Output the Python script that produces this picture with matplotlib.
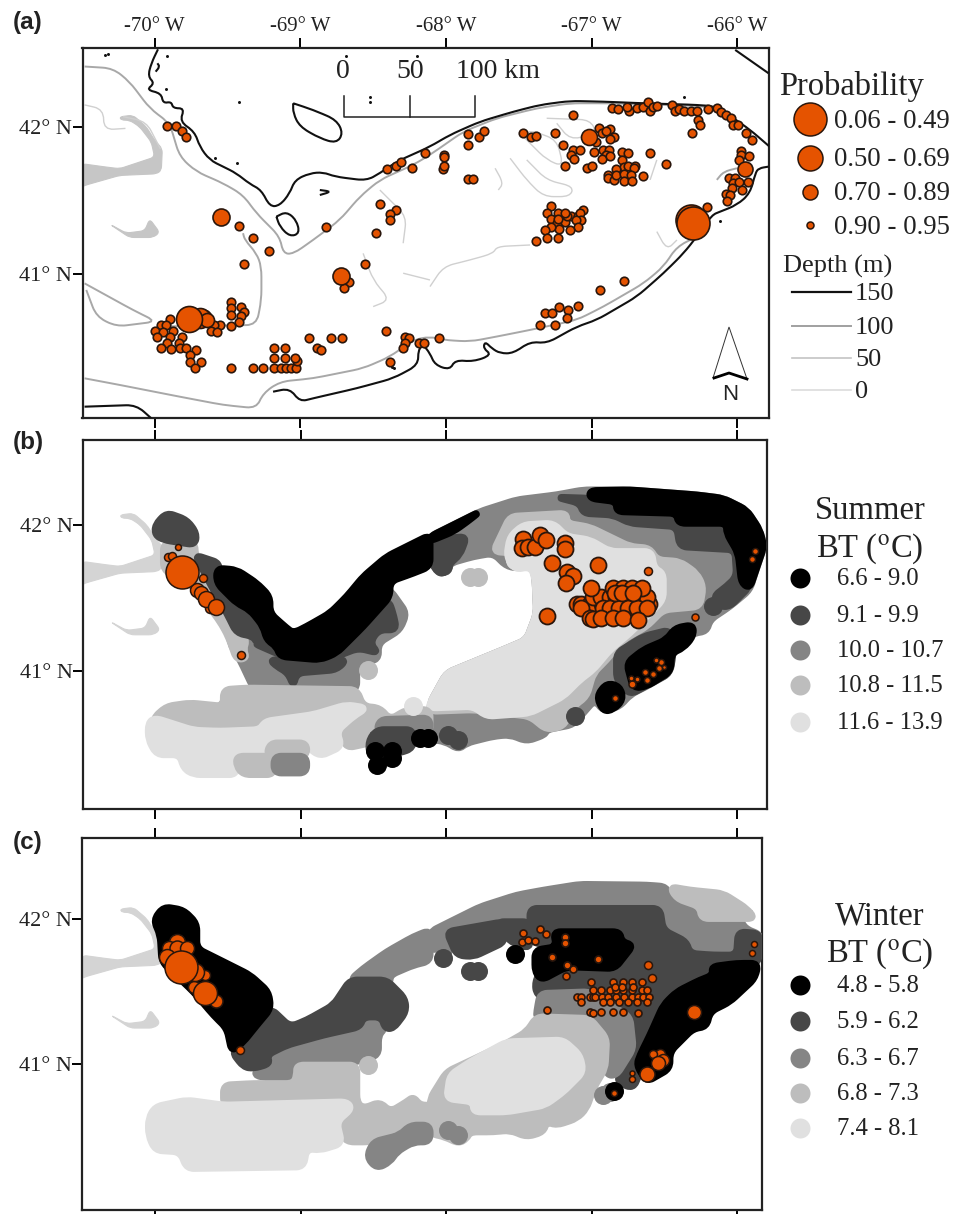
# Georges Bank maps: occurrence probability, summer and winter bottom temperature
import numpy as np
import matplotlib.pyplot as plt
from matplotlib.patches import Polygon, PathPatch
from matplotlib.path import Path

plt.rcParams['font.family'] = ['Liberation Serif', 'DejaVu Serif']
plt.rcParams['mathtext.fontset'] = 'stix'

W, H = 955, 1214
ORANGE = '#e55300'
EDGE = '#2a160c'
SHADES = ['#000000', '#474747', '#858585', '#bdbdbd', '#e0e0e0']

lon_ticks = [-70, -69, -68, -67, -66]
lon_labels = ['-70° W', '-69° W', '-68° W', '-67° W', '-66° W']
lat_ticks = [41, 42]
lat_labels = ['41° N', '42° N']

prob_labels = ['0.06 - 0.49', '0.50 - 0.69', '0.70 - 0.89', '0.90 - 0.95']
depth_labels = ['150', '100', '50', '0']
summer_labels = ['6.6 - 9.0', '9.1 - 9.9', '10.0 - 10.7', '10.8 - 11.5', '11.6 - 13.9']
winter_labels = ['4.8 - 5.8', '5.9 - 6.2', '6.3 - 6.7', '6.8 - 7.3', '7.4 - 8.1']

# panel a, occurrences (lon, lat)
a_small = [
    (-69.915,42.009),(-69.855,42.009),(-69.814,41.971),(-69.784,41.930),(-69.424,41.327),(-69.326,41.245),
    (-69.214,41.159),(-69.386,41.068),(-68.822,41.318),(-68.456,41.476),(-68.343,41.433),(-68.382,41.408),
    (-68.382,41.365),(-68.481,41.277),(-68.554,41.068),(-68.669,40.948),(-68.703,40.903),(-68.403,41.712),
    (-68.343,41.733),(-68.311,41.762),(-68.233,41.724),(-68.142,41.823),(-69.475,40.807),(-69.475,40.767),
    (-69.475,40.724),(-69.475,40.646),(-69.404,40.778),(-69.386,40.744),(-69.406,40.712),(-69.424,40.674),
    (-69.553,40.653),(-69.594,40.653),(-69.615,40.615),(-69.573,40.603),(-69.896,40.692),(-69.954,40.653),
    (-69.924,40.653),(-69.995,40.612),(-69.945,40.603),(-69.873,40.615),(-69.986,40.574),(-69.894,40.574),
    (-69.814,40.574),(-69.915,40.533),(-69.835,40.533),(-69.954,40.494),(-69.885,40.488),(-69.825,40.494),
    (-69.784,40.494),(-69.713,40.485),(-69.754,40.449),(-69.754,40.404),(-69.683,40.404),(-69.725,40.358),
    (-69.475,40.358),(-69.326,40.358),(-69.255,40.358),(-69.182,40.358),(-69.131,40.358),(-69.095,40.358),
    (-69.065,40.358),(-69.030,40.358),(-69.024,40.406),(-69.037,40.426),(-69.182,40.426),(-69.106,40.426),
    (-69.182,40.494),(-69.104,40.494),(-68.943,40.567),(-68.790,40.567),(-68.712,40.567),(-68.886,40.494),
    (-68.861,40.483),(-68.412,40.612),(-68.281,40.574),(-68.252,40.563),(-68.281,40.533),(-68.293,40.494),
    (-68.183,40.533),(-68.151,40.533),(-68.384,40.404),
    (-67.851,41.950),(-67.851,41.880),(-67.771,41.932),(-67.739,41.971),(-68.014,41.810),(-68.014,41.794),
    (-68.023,41.714),(-68.014,41.735),(-67.851,41.644),(-67.812,41.644),(-67.471,41.959),(-67.420,41.932),
    (-67.379,41.939),(-67.251,41.959),(-67.129,42.080),(-67.200,41.880),(-67.182,41.733),(-67.031,41.724),
    (-67.001,41.733),(-66.951,41.991),(-66.871,41.987),(-66.930,41.957),(-66.900,41.971),(-66.850,41.930),
    (-66.871,41.921),(-66.971,41.900),(-67.129,41.841),(-67.079,41.841),(-67.141,41.810),(-67.120,41.782),
    (-66.981,41.832),(-66.921,41.841),(-66.880,41.841),(-66.900,41.810),(-66.930,41.782),(-66.871,41.801),
    (-66.793,41.832),(-66.751,41.823),(-66.793,41.773),(-66.781,41.730),(-66.751,41.733),(-66.701,41.733),
    (-66.710,41.719),(-66.603,41.823),(-66.490,41.751),(-66.832,41.712),(-66.891,41.674),(-66.891,41.653),
    (-66.850,41.640),(-66.832,41.674),(-66.781,41.683),(-66.781,41.635),(-66.731,41.674),(-66.722,41.635),
    (-66.651,41.665),(-67.281,41.465),(-67.304,41.415),(-67.230,41.415),(-67.141,41.397),(-67.091,41.397),
    (-67.061,41.436),(-67.080,41.415),(-67.281,41.376),(-67.239,41.347),(-67.182,41.356),(-67.070,41.365),
    (-67.111,41.365),(-67.091,41.318),(-67.152,41.299),(-67.221,41.306),(-67.281,41.318),(-67.322,41.299),
    (-67.304,41.247),(-67.230,41.247),(-67.381,41.227),(-67.172,41.397),(-67.230,41.376),(-67.182,41.415),
    (-66.779,40.953),(-66.942,40.891),(-67.091,40.782),(-67.221,40.778),(-67.162,40.753),(-67.322,40.733),
    (-67.271,40.733),(-67.171,40.703),(-67.352,40.653),(-67.251,40.653),(-68.050,40.565),
    (-66.861,42.129),(-66.822,42.120),(-66.742,42.109),(-66.758,42.139),(-66.690,42.129),(-66.651,42.139),
    (-66.612,42.170),(-66.598,42.109),(-66.582,42.139),(-66.552,42.145),(-66.451,42.150),(-66.431,42.111),
    (-66.399,42.120),(-66.369,42.111),(-66.319,42.111),(-66.277,42.111),(-66.270,42.048),(-66.259,42.012),
    (-66.309,41.959),(-66.199,42.120),(-66.140,42.132),(-66.110,42.100),(-66.078,42.082),(-66.041,42.059),
    (-66.030,42.012),(-65.998,42.012),(-65.938,41.959),(-65.899,41.912),(-65.977,41.839),(-65.977,41.810),
    (-65.989,41.776),(-65.920,41.801),(-66.060,41.653),(-66.018,41.653),(-66.030,41.617),(-65.989,41.624),
    (-65.929,41.624),(-66.039,41.583),(-65.968,41.574),(-66.080,41.544),(-66.048,41.538),(-66.069,41.494),
    (-66.208,41.454),
]
# (lon, lat, diameter class in pixels)
a_large = [
    (-69.667,40.699,17),(-69.690,40.699,20),(-69.640,40.690,14),(-69.764,40.692,26),
    (-69.544,41.386,17),(-68.724,40.989,17),(-67.019,41.930,16),(-65.950,41.712,15),
    (-66.315,41.365,31),(-66.305,41.345,33),
]
# stray black soundings outside the bank
specks = [(-69.915,42.483),(-69.924,42.256),(-69.420,42.172),(-69.434,41.757),(-69.587,41.787),(-68.197,42.483),
          (-68.683,42.483),(-68.523,42.206),(-68.523,42.172),(-66.363,42.206),(-66.118,41.361),(-68.374,40.370),
          (-68.360,40.360),(-70.343,42.490),(-70.320,42.495)]

# panels b and c share the occurrence positions, only the size differs
nw_lon = [-67.469,-67.480,-67.434,-67.389,-67.354,-67.313,-67.183,-67.183,-67.274,-66.954,-67.171,-67.130,-67.176,-67.304]
nw_lat = [41.903,41.841,41.852,41.848,41.932,41.898,41.875,41.836,41.738,41.727,41.681,41.652,41.606,41.374]
dense_lon = [-67.102,-67.075,-67.011,-66.988,-66.976,-66.931,-66.885,-66.834,-66.775,-66.725,-66.679,-66.644,-66.603,
             -66.988,-66.935,-66.873,-66.834,-66.782,-66.725,-66.656,-66.622,
             -67.004,-66.855,-66.782,-66.725,-66.656,
             -67.075,-66.919,-66.873,-66.809,-66.747,-66.686,-66.622,
             -66.839,-66.793,-66.713,
             -67.011,-66.988,-66.935,-66.855,-66.782,-66.683]
dense_lat = [41.459,41.459,41.459,41.459,41.459,41.459,41.459,41.459,41.459,41.459,41.459,41.459,41.459,
             41.509,41.509,41.509,41.509,41.509,41.509,41.509,41.509,
             41.567,41.567,41.567,41.567,41.567,
             41.429,41.429,41.429,41.429,41.429,41.429,41.429,
             41.532,41.532,41.532,
             41.360,41.355,41.360,41.360,41.360,41.350]
b_tiny = [(-66.610,41.688,8),(-66.289,41.371,7),(-66.839,40.813,6),(-66.720,40.911,7),(-66.686,40.945,5),
          (-66.727,40.950,5),(-66.633,40.993,6),(-66.619,40.940,6),(-66.580,40.979,6),(-66.539,41.020,6),
          (-66.523,41.061,6),(-66.555,41.073,5),(-66.502,41.027,4),(-65.877,41.825,6),(-65.900,41.766,6),
          (-69.411,41.109,8)]
b_nw = [(-69.844,41.848,6),(-69.908,41.784,8),(-69.880,41.790,8),(-69.668,41.636,8),(-69.714,41.556,14),
        (-69.686,41.533,14),(-69.622,41.431,10),(-69.649,41.492,16),(-69.581,41.437,16),(-69.817,41.681,33)]
c_tiny = [(-66.844,40.803,6),(-66.724,40.900,6),(-66.724,40.935,5),(-65.884,41.825,6),(-65.900,41.763,6),
          (-66.610,41.682,8),(-66.587,41.595,8),(-69.416,41.095,8)]
c_big = [(-69.851,41.843,16),(-69.908,41.797,14),(-69.851,41.797,15),(-69.782,41.797,14),(-69.920,41.739,16),
         (-69.736,41.533,12),(-69.656,41.613,10),(-69.725,41.636,18),(-69.581,41.434,13),(-69.656,41.487,24),
         (-69.821,41.671,33),(-66.530,41.072,10),(-66.576,41.072,8),(-66.507,41.026,12),(-66.541,41.010,14),
         (-66.622,40.928,15),(-66.294,41.360,14)]

# depth contours (lon, lat)
c150 = [
    [(-69.977,42.528),(-70.023,42.433),(-70.046,42.343),(-70.0,42.297),(-70.057,42.252),(-69.954,42.229),
     (-69.943,42.161),(-69.885,42.172),(-69.874,42.127),(-69.794,42.127),(-69.828,42.036),(-69.725,41.968),
     (-69.691,41.866),(-69.622,41.775),(-69.530,41.730),(-69.439,41.685),(-69.347,41.612),(-69.267,41.571),
     (-69.210,41.458),(-69.141,41.465),(-69.072,41.549),(-69.038,41.639),(-68.935,41.685),(-68.843,41.692),
     (-68.763,41.662),(-68.546,41.635),(-68.454,41.685),(-68.339,41.764),(-68.11,41.866),(-67.973,41.946),
     (-67.767,42.036),(-67.537,42.104),(-67.354,42.150),(-67.148,42.177),(-66.919,42.172),(-66.644,42.161),
     (-66.278,42.150),(-66.141,42.139),(-66.026,42.059),(-65.912,41.980),(-65.779,41.866)],
    [(-65.786,41.730),(-65.854,41.719),(-65.877,41.685),(-65.912,41.549),(-66.003,41.469),(-66.118,41.424),
     (-66.175,41.401),(-66.278,41.254),(-66.370,41.140),(-66.507,41.005),(-66.690,40.846),(-66.965,40.687),
     (-67.102,40.642),(-67.309,40.528),(-67.423,40.540),(-67.537,40.460),(-67.629,40.460),(-67.686,40.494),
     (-67.732,40.540),(-67.744,40.494),(-67.686,40.449),(-67.812,40.403),(-67.938,40.415),(-67.973,40.347),
     (-68.076,40.381),(-68.11,40.460),(-68.156,40.517),(-68.191,40.483),(-68.191,40.381),(-68.362,40.290),
     (-68.614,40.222),(-68.912,40.154),(-69.004,40.131),(-69.072,40.222),(-69.187,40.199)],
    [(-70.481,40.097),(-70.126,40.109),(-70.023,40.018)],
    [(-66.015,42.524),(-65.786,42.365)],
    [(-69.049,42.161),(-68.912,42.116),(-68.752,42.048),(-68.706,41.957),(-68.752,41.889),(-68.866,41.923),
     (-69.004,42.002),(-69.049,42.093),(-69.049,42.161)],
    [(-69.164,41.390),(-69.095,41.424),(-69.027,41.367),(-69.004,41.276),(-69.072,41.254),(-69.141,41.322),(-69.164,41.390)],
    [(-68.866,41.571),(-68.786,41.560),(-68.866,41.537)],
    [(-69.981,42.433),(-69.965,42.410),(-69.993,42.376)],
]
c100 = [
    [(-70.481,42.411),(-70.286,42.399),(-70.172,42.308),(-70.034,42.127),(-69.897,42.025),(-69.828,41.798),
     (-69.714,41.696),(-69.530,41.617),(-69.393,41.537),(-69.301,41.413),(-69.141,41.254),(-69.118,41.140),
     (-69.049,41.136),(-68.912,41.231),(-68.729,41.367),(-68.591,41.526),(-68.454,41.640),(-68.225,41.742),
     (-68.11,41.810),(-67.881,41.968),(-67.652,42.059),(-67.377,42.127),(-67.148,42.161),(-66.896,42.161),
     (-66.278,42.143),(-66.141,42.127)],
    [(-66.278,41.254),(-66.415,41.186),(-66.507,41.050),(-66.644,40.936),(-66.919,40.778),(-67.102,40.687),
     (-67.423,40.619),(-67.652,40.574),(-67.835,40.540),(-68.018,40.551),(-68.11,40.574),(-68.225,40.551),
     (-68.385,40.437),(-68.569,40.358),(-68.912,40.290),(-69.141,40.267),(-69.256,40.188),(-69.301,40.086),
     (-69.530,40.109),(-69.828,40.165),(-70.240,40.245),(-70.481,40.290)],
    [(-70.481,40.936),(-70.149,40.755),(-69.988,40.676),(-70.263,40.642),(-70.400,40.710),(-70.469,40.891)],
    [(-69.988,40.642),(-69.301,40.653),(-69.267,40.823),(-69.267,41.050),(-69.301,41.141),(-69.381,41.231),(-69.393,41.277)],
    [(-66.141,41.640),(-66.095,41.696),(-66.003,41.719)],
]
c50 = [
    [(-68.569,41.140),(-68.500,40.959),(-68.385,40.823),(-68.500,40.778)],
    [(-68.294,41.005),(-68.11,40.959)],
    [(-68.454,41.571),(-68.271,41.390),(-68.294,41.209)],
    [(-68.11,40.914),(-68.018,41.050),(-67.835,41.095),(-67.675,41.140),(-67.652,41.186),(-67.423,41.197)],
    [(-67.560,41.787),(-67.446,41.639),(-67.331,41.526),(-67.148,41.526),(-67.125,41.594),(-67.309,41.639),(-67.446,41.776)],
    [(-67.469,41.934),(-67.309,41.776),(-67.194,41.730),(-67.240,41.912),(-67.423,41.980),(-67.469,41.934)],
    [(-67.309,42.059),(-67.011,42.048),(-66.965,41.957),(-67.148,41.912),(-67.240,42.025)],
    [(-67.663,41.719),(-67.606,41.617),(-67.641,41.571)],
    [(-66.599,41.640),(-66.553,41.776)],
    [(-66.553,41.288),(-66.484,41.163),(-66.415,41.231)],
    [(-70.217,42.070),(-70.057,42.036),(-69.960,41.850)],
    [(-70.481,42.150),(-70.350,42.120),(-70.350,41.980),(-70.200,41.990)],
]

# land, same in all panels
cape = [(-70.240,42.069),(-70.149,42.080),(-70.057,42.001),(-70.0,41.909),(-69.947,41.852),(-69.954,41.704),
        (-69.988,41.681),(-70.240,41.670),(-70.481,41.602),(-70.5,41.590),(-70.5,41.750),(-70.332,41.727),
        (-70.240,41.716),(-70.0,41.795),(-70.023,41.898),(-70.103,42.001),(-70.172,42.046),(-70.229,42.046)]
nantucket = [(-70.309,41.339),(-70.195,41.278),(-70.068,41.294),(-70.034,41.374),(-69.965,41.282),(-70.011,41.248),(-70.172,41.248)]

# summer temperature classes, painted in this order (class index, outline)
summer_polys = [
    (2, [(-68.11,41.921),(-67.973,41.989),(-67.766,42.092),(-67.515,42.172),(-67.240,42.206),(-67.057,42.240),
         (-66.736,42.240),(-66.278,42.206),(-66.095,42.183),(-65.934,42.103),(-65.843,41.966),(-65.815,41.852),
         (-65.877,41.670),(-65.912,41.556),(-66.049,41.442),(-66.186,41.351),(-66.209,41.271),(-66.301,41.260),
         (-66.461,41.100),(-66.461,40.986),(-66.621,40.895),(-66.736,40.838),(-66.805,40.758),(-66.919,40.724),
         (-66.976,40.804),(-67.057,40.712),(-67.125,40.633),(-67.309,40.598),(-67.320,40.564),(-67.446,40.519),
         (-67.560,40.564),(-67.675,40.553),(-67.858,40.507),(-67.915,40.462),(-68.007,40.519),(-68.11,40.530),
         (-68.11,40.781),(-67.996,40.986),(-67.606,41.146),(-67.446,41.214),(-67.377,41.396),(-67.389,41.647),
         (-67.423,41.784),(-67.492,41.704),(-67.583,41.716),(-67.675,41.807),(-67.812,41.784),(-67.973,41.738),
         (-68.018,41.659),(-68.076,41.693),(-68.11,41.784)]),
    (3, [(-67.675,41.818),(-67.560,42.058),(-67.171,42.080),(-67.171,42.012),(-67.011,41.985),(-66.736,41.852),
         (-66.599,41.841),(-66.553,41.761),(-66.393,41.750),(-66.278,41.670),(-66.232,41.579),(-66.255,41.442),
         (-66.507,41.419),(-66.621,41.305),(-66.782,41.214),(-66.896,41.077),(-66.988,40.986),(-67.034,40.826),
         (-67.125,40.758),(-67.194,40.621),(-67.309,40.598),(-67.423,40.690),(-67.812,40.735),(-68.11,40.724),
         (-68.11,40.781),(-67.996,40.986),(-67.606,41.146),(-67.446,41.214),(-67.377,41.396),(-67.389,41.647),
         (-67.423,41.784),(-67.560,41.81)]),
    (4, [(-67.583,41.784),(-67.560,41.921),(-67.469,42.001),(-67.263,42.012),(-67.171,41.921),(-67.011,41.898),
         (-66.874,41.818),(-66.587,41.818),(-66.571,41.704),(-66.507,41.670),(-66.507,41.488),(-66.621,41.374),
         (-66.736,41.260),(-66.873,41.146),(-66.988,41.009),(-67.080,40.940),(-67.194,40.826),(-67.423,40.712),
         (-67.721,40.690),(-67.812,40.758),(-68.11,40.747),(-68.11,40.781),(-67.996,40.986),(-67.606,41.146),
         (-67.446,41.214),(-67.377,41.396),(-67.389,41.647),(-67.423,41.716),(-67.526,41.693)]),
    (1, [(-67.240,42.190),(-67.011,42.183),(-66.828,42.160),(-66.828,42.092),(-66.415,42.080),(-66.404,42.012),
         (-66.072,42.012),(-65.912,41.579),(-66.049,41.442),(-66.118,41.442),(-66.164,41.510),(-66.072,41.579),
         (-66.003,41.647),(-66.015,41.830),(-66.393,41.852),(-66.415,41.989),(-66.736,42.012),(-66.851,42.069),
         (-67.057,42.080),(-67.080,42.149)]),
    (0, [(-67.011,42.235),(-66.736,42.240),(-66.278,42.206),(-66.095,42.183),(-65.934,42.103),(-65.843,41.966),
         (-65.815,41.852),(-65.877,41.670),(-65.912,41.567),(-65.969,41.602),(-65.992,41.807),(-66.072,41.944),
         (-66.072,42.012),(-66.404,42.012),(-66.415,42.080),(-66.828,42.092),(-66.828,42.160),(-67.011,42.183)]),
    (1, [(-66.828,41.123),(-66.644,41.237),(-66.461,41.282),(-66.438,41.123),(-66.461,40.986),(-66.736,40.838),(-66.828,40.940)]),
    (0, [(-66.427,41.294),(-66.301,41.317),(-66.301,41.237),(-66.370,41.157),(-66.450,41.123),(-66.457,40.997),
         (-66.621,40.895),(-66.713,40.883),(-66.759,41.054),(-66.644,41.146),(-66.484,41.214)]),
    (0, [(-66.965,40.826),(-66.896,40.918),(-66.805,40.895),(-66.782,40.804),(-66.851,40.735),(-66.919,40.724)]),
    (1, [(-68.11,41.898),(-67.858,41.921),(-67.904,41.795),(-67.973,41.738),(-68.018,41.659),(-68.076,41.693),(-68.11,41.784)]),
    (0, [(-68.11,41.921),(-67.973,41.989),(-67.766,42.092),(-67.858,42.020),(-67.950,41.955),(-68.11,41.890)]),
    (2, [(-69.519,41.374),(-69.370,41.396),(-69.210,41.214),(-69.049,41.214),(-68.912,41.282),(-68.683,41.442),
         (-68.454,41.556),(-68.385,41.556),(-68.271,41.396),(-68.317,41.282),(-68.465,41.191),(-68.465,41.077),
         (-68.614,41.054),(-68.614,40.872),(-68.820,40.838),(-69.027,40.883),(-69.049,40.986),(-69.072,40.883),
         (-69.324,40.883),(-69.416,41.077),(-69.485,41.191),(-69.496,41.305)]),
    (3, [(-69.942,41.875),(-69.725,41.875),(-69.725,41.795),(-69.599,41.602),(-69.507,41.374),(-69.370,41.214),
         (-69.393,41.146),(-69.370,41.089),(-69.439,41.077),(-69.496,41.237),(-69.553,41.339),(-69.736,41.579),(-69.942,41.693)]),
    (1, [(-69.999,42.001),(-69.920,42.085),(-69.782,42.035),(-69.714,41.944),(-69.725,41.864),(-69.942,41.898),(-69.999,41.932)]),
    (1, [(-69.725,41.795),(-69.553,41.738),(-69.576,41.602),(-69.439,41.465),(-69.301,41.419),(-69.210,41.237),
         (-69.301,41.191),(-69.324,41.237),(-69.439,41.260),(-69.507,41.396),(-69.599,41.556)]),
    (1, [(-69.324,41.191),(-69.141,41.111),(-68.752,41.100),(-68.603,41.157),(-68.465,41.123),(-68.523,41.191),
         (-68.465,41.282),(-68.340,41.282),(-68.363,41.396),(-68.397,41.488),(-68.569,41.305),(-68.752,41.123)]),
    (1, [(-69.210,41.077),(-68.683,41.077),(-68.752,41.009),(-69.027,40.986),(-69.049,40.895),(-69.084,40.986),(-69.164,41.032)]),
    (0, [(-69.576,41.704),(-69.439,41.693),(-69.301,41.602),(-69.210,41.510),(-69.210,41.396),(-69.095,41.294),
         (-69.049,41.260),(-68.958,41.305),(-68.798,41.396),(-68.683,41.510),(-68.569,41.647),(-68.408,41.784),
         (-68.225,41.875),(-68.11,41.932),(-68.11,41.716),(-68.225,41.670),(-68.385,41.613),(-68.385,41.510),
         (-68.569,41.305),(-68.752,41.123),(-68.866,41.077),(-69.141,41.100),(-69.164,41.168),(-69.233,41.214),
         (-69.256,41.305),(-69.347,41.419),(-69.439,41.465),(-69.576,41.602)]),
    (3, [(-70.011,40.678),(-69.920,40.758),(-69.759,40.781),(-69.530,40.758),(-69.530,40.872),(-69.370,40.883),
         (-68.614,40.872),(-68.569,40.758),(-68.454,40.747),(-68.385,40.667),(-68.271,40.735),(-68.11,40.735),
         (-68.11,40.575),(-68.225,40.598),(-68.477,40.598),(-68.523,40.507),(-68.683,40.473),(-68.729,40.575),
         (-69.233,40.575),(-70.011,40.575)]),
    (4, [(-70.046,40.644),(-70.0,40.678),(-69.736,40.594),(-69.553,40.587),(-69.278,40.598),(-69.244,40.655),
         (-68.912,40.701),(-68.683,40.769),(-68.546,40.747),(-68.637,40.690),(-68.752,40.587),(-68.717,40.484),
         (-68.866,40.416),(-68.958,40.484),(-68.958,40.507),(-69.210,40.507),(-69.233,40.416),(-69.439,40.416),
         (-69.439,40.291),(-69.736,40.291),(-69.805,40.336),(-69.828,40.427),(-69.988,40.427),(-70.046,40.530)]),
    (3, [(-69.210,40.507),(-68.958,40.507),(-68.958,40.416),(-69.233,40.416)]),
    (3, [(-69.439,40.416),(-69.182,40.416),(-69.182,40.291),(-69.393,40.291),(-69.439,40.348)]),
    (2, [(-69.182,40.416),(-68.958,40.416),(-68.958,40.302),(-69.182,40.302)]),
    (2, [(-68.454,40.667),(-68.11,40.678),(-68.11,40.575),(-68.477,40.587)]),
    (1, [(-68.534,40.519),(-68.477,40.598),(-68.225,40.598),(-68.225,40.473),(-68.317,40.439),(-68.523,40.416)]),
]
# single grid cells (lon, lat, class)
summer_cells = [(-67.114,40.690,1),(-67.915,40.530,1),(-67.984,40.564,1),(-66.164,41.442,1),(-67.835,41.647,3),
                (-67.778,41.647,3),(-67.526,41.761,4),(-68.534,41.009,3),(-68.225,40.758,4),(-68.018,41.716,1),
                (-68.477,40.359,0),(-68.488,40.450,0),(-68.374,40.450,0),(-68.374,40.405,0),(-68.179,40.541,0),(-68.122,40.541,0)]

winter_polys = [
    (2, [(-68.11,41.912),(-67.973,41.981),(-67.766,42.084),(-67.515,42.165),(-67.331,42.199),(-67.080,42.239),
         (-66.621,42.234),(-66.484,42.223),(-66.461,42.142),(-66.255,42.085),(-66.244,42.004),(-65.980,42.004),
         (-65.946,41.935),(-65.832,41.889),(-65.843,41.751),(-66.164,41.751),(-66.324,41.763),(-66.347,41.843),
         (-66.507,41.924),(-66.530,42.073),(-67.423,42.073),(-67.423,41.981),(-67.652,41.970),(-67.652,41.912),
         (-67.996,41.912),(-67.973,41.751),(-68.041,41.797),(-68.11,41.786)]),
    (3, [(-66.461,42.223),(-66.324,42.199),(-66.095,42.176),(-65.934,42.073),(-65.877,42.004),(-66.244,42.004),(-66.255,42.085),(-66.415,42.142)]),
    (1, [(-67.423,42.073),(-66.530,42.073),(-66.507,41.924),(-66.347,41.843),(-66.324,41.763),(-66.164,41.751),
         (-66.003,41.751),(-65.992,41.912),(-65.843,41.900),(-65.843,41.728),(-66.095,41.429),(-66.507,41.406),
         (-66.507,41.199),(-66.599,41.107),(-66.713,40.831),(-66.828,40.877),(-66.736,41.107),(-66.736,41.325),
         (-67.011,41.325),(-67.377,41.475),(-67.389,41.567),(-67.263,41.797),(-67.423,41.850)]),
    (1, [(-67.996,41.912),(-67.606,41.981),(-67.595,41.843),(-67.812,41.740),(-67.927,41.751)]),
    (1, [(-67.652,41.981),(-67.423,41.981),(-67.423,41.797),(-67.560,41.843)]),
    (0, [(-67.263,41.912),(-66.805,41.912),(-66.793,41.843),(-66.713,41.820),(-66.839,41.659),(-67.171,41.671),
         (-67.343,41.579),(-67.389,41.636),(-67.389,41.785),(-67.240,41.809)]),
    (0, [(-66.175,41.671),(-66.003,41.694),(-65.854,41.694),(-65.877,41.590),(-66.049,41.429),(-66.186,41.360),
         (-66.209,41.257),(-66.301,41.245),(-66.461,41.084),(-66.461,40.969),(-66.621,40.877),(-66.690,40.992),
         (-66.667,41.061),(-66.599,41.199),(-66.507,41.406),(-66.415,41.498),(-66.255,41.579),(-66.164,41.613)]),
    (2, [(-67.377,41.360),(-67.354,41.486),(-67.011,41.498),(-66.736,41.325),(-66.713,41.107),(-66.828,40.923),
         (-66.896,40.923),(-66.919,41.199),(-67.011,41.291),(-67.377,41.326)]),
    (3, [(-67.446,41.222),(-67.377,41.326),(-67.011,41.314),(-66.896,41.176),(-66.907,40.969),(-66.988,40.831),
         (-67.034,40.693),(-67.102,40.624),(-67.240,40.578),(-67.309,40.601),(-67.331,40.532),(-67.446,40.497),
         (-67.560,40.544),(-67.675,40.532),(-67.835,40.532),(-67.858,40.486),(-67.915,40.452),(-68.007,40.498),
         (-68.11,40.520),(-68.11,40.762),(-67.996,40.946),(-67.606,41.130)]),
    (4, [(-67.996,40.762),(-67.973,40.923),(-67.835,41.015),(-67.583,41.153),(-67.194,41.165),(-67.080,41.061),
         (-67.057,40.946),(-67.194,40.808),(-67.320,40.716),(-67.583,40.670),(-67.812,40.670),(-67.812,40.739)]),
    (2, [(-68.660,41.579),(-68.569,41.659),(-68.408,41.774),(-68.225,41.878),(-68.11,41.924),(-68.11,41.710),
         (-68.225,41.682),(-68.385,41.613),(-68.385,41.555)]),
    (2, [(-69.324,40.923),(-69.278,40.992),(-69.198,41.015),(-69.233,41.061),(-69.095,41.130),(-68.843,41.200),
         (-68.591,41.257),(-68.569,41.325),(-68.443,41.325),(-68.420,41.245),(-68.465,41.199),(-68.465,41.061),
         (-68.614,41.015),(-69.027,40.992),(-69.049,40.877),(-69.084,40.877)]),
    (3, [(-69.027,40.992),(-68.614,40.992),(-68.614,40.739),(-68.569,40.693),(-68.454,40.739),(-68.385,40.670),
         (-68.271,40.739),(-68.225,40.774),(-68.179,40.716),(-68.11,40.716),(-68.11,40.578),(-68.248,40.578),
         (-68.317,40.532),(-68.454,40.486),(-68.523,40.463),(-68.683,40.463),(-68.729,40.532),(-68.660,40.716),
         (-69.530,40.716),(-69.530,40.854),(-69.324,40.865),(-69.049,40.865),(-69.027,40.923)]),
    (4, [(-70.046,40.624),(-70.0,40.705),(-69.782,40.751),(-69.530,40.716),(-68.683,40.739),(-68.649,40.693),
         (-68.752,40.601),(-68.717,40.452),(-68.866,40.406),(-68.958,40.417),(-68.981,40.291),(-69.782,40.279),
         (-69.828,40.394),(-70.0,40.405),(-70.046,40.509)]),
    (2, [(-68.546,40.360),(-68.500,40.463),(-68.317,40.509),(-68.248,40.578),(-68.11,40.578),(-68.11,40.463),
         (-68.225,40.463),(-68.340,40.394),(-68.385,40.325),(-68.477,40.279)]),
    (1, [(-69.205,41.383),(-69.072,41.257),(-68.958,41.303),(-68.775,41.406),(-68.660,41.579),(-68.408,41.579),
         (-68.282,41.452),(-68.275,41.360),(-68.362,41.245),(-68.420,41.245),(-68.443,41.325),(-68.569,41.325),
         (-68.591,41.257),(-68.843,41.200),(-69.095,41.130),(-69.233,41.061),(-69.210,41.003),(-69.324,40.969),
         (-69.393,40.980),(-69.473,41.084),(-69.393,41.153),(-69.301,41.268)]),
    (0, [(-70.011,41.993),(-69.942,42.085),(-69.805,42.062),(-69.714,41.970),(-69.714,41.797),(-69.530,41.705),
         (-69.347,41.613),(-69.221,41.498),(-69.205,41.383),(-69.301,41.268),(-69.393,41.153),(-69.473,41.084),
         (-69.507,41.245),(-69.599,41.337),(-69.736,41.498),(-69.954,41.705),(-69.965,41.889)]),
]
winter_cells = [(-68.534,40.992,3),(-67.526,41.762,0),(-67.835,41.643,1),(-67.778,41.643,1),(-68.023,41.728,1),
                (-67.915,40.509,2),(-67.984,40.544,2),(-66.873,40.808,2),(-66.919,40.785,2),(-66.844,40.812,0)]


def place(x0, y0, x1, y1):
    # pixel box of the reference to figure fractions
    return [x0 / W, 1 - y1 / H, (x1 - x0) / W, (y1 - y0) / H]


def d2s(d):
    return (d * 0.72) ** 2


def xy(pts):
    return [p[0] for p in pts], [p[1] for p in pts]


def rounded(pts, r, closed=True):
    # outline with its corners rounded off by bezier segments
    p = np.array(pts, dtype=float)
    n = len(p)
    verts, codes = [], []
    idx = range(n) if closed else range(1, n - 1)
    if not closed:
        verts.append(p[0])
        codes.append(Path.MOVETO)
    for i in idx:
        a, v, b = p[(i - 1) % n], p[i], p[(i + 1) % n]
        ra = min(r, np.hypot(*(a - v)) / 2)
        rb = min(r, np.hypot(*(b - v)) / 2)
        start = v + (a - v) / np.hypot(*(a - v)) * ra
        end = v + (b - v) / np.hypot(*(b - v)) * rb
        verts.append(start)
        codes.append(Path.MOVETO if (closed and i == 0) else Path.LINETO)
        verts += [v, end]
        codes += [Path.CURVE3, Path.CURVE3]
    if closed:
        verts.append(verts[0])
        codes.append(Path.CLOSEPOLY)
    else:
        verts.append(p[-1])
        codes.append(Path.LINETO)
    return Path(verts, codes)


def bubbles(ax, lon, lat, d, lw=1.2, edge=EDGE):
    ax.scatter(lon, lat, s=d2s(d), color=ORANGE, edgecolor=edge, linewidth=lw, zorder=6)


def draw_land(ax, color):
    for shape in [cape, nantucket]:
        ax.add_patch(PathPatch(rounded(shape, 0.03), fc=color, ec=color, lw=0.8, zorder=1))


def draw_lines(ax, lines, color, lw, z):
    for line in lines:
        ax.add_patch(PathPatch(rounded(line, 0.07, closed=False), fc='none', ec=color, lw=lw, zorder=z))


def draw_classes(ax, polys, cells):
    for k, pts in polys:
        ax.add_patch(PathPatch(rounded(pts, 0.05), fc=SHADES[k], ec=SHADES[k], lw=5, joinstyle='round', zorder=3))
    for lon, lat, k in cells:
        ax.scatter(lon, lat, s=d2s(19), color=SHADES[k], linewidth=0, zorder=4)


def frame(ax, xlim, ylim, top_labels=False):
    ax.set_xlim(*xlim)
    ax.set_ylim(*ylim)
    ax.set_xticks(lon_ticks)
    ax.set_yticks(lat_ticks)
    ax.set_yticklabels(lat_labels, fontsize=16, color='#222222')
    ax.tick_params(axis='x', top=True, bottom=True, labelbottom=False, labeltop=top_labels,
                   length=7, width=1.4, pad=1.5)
    ax.tick_params(axis='y', length=7, width=1.4, pad=0.5)
    if top_labels:
        ax.set_xticklabels(lon_labels, fontsize=15, color='#222222')
    for s in ax.spines.values():
        s.set_linewidth(1.6)
        s.set_color('#222222')


fig = plt.figure(figsize=(W / 100, H / 100), dpi=100, facecolor='white')
ax_a = fig.add_axes(place(82.5, 48, 769, 418))
ax_b = fig.add_axes(place(83, 440, 767, 809))
ax_c = fig.add_axes(place(82, 838, 762, 1210))

# panel a
draw_land(ax_a, '#c6c6c6')
draw_lines(ax_a, c50, '#d0d0d0', 1.0, 2)
draw_lines(ax_a, c100, '#a8a8a8', 1.4, 3)
draw_lines(ax_a, c150, '#111111', 1.5, 4)
ax_a.scatter(*xy(specks), s=d2s(3), color='#111111', linewidth=0, zorder=4)
bubbles(ax_a, *xy(a_small), 8.5)
for lon, lat, d in a_large:
    bubbles(ax_a, lon, lat, d)
frame(ax_a, (-70.495, -65.783), (40.020, 42.537), top_labels=True)

# panel b
draw_land(ax_b, '#d4d4d4')
draw_classes(ax_b, summer_polys, summer_cells)
bubbles(ax_b, nw_lon, nw_lat, 16, lw=1.3)
bubbles(ax_b, dense_lon, dense_lat, 16, lw=1.3)
for lon, lat, d in b_nw + b_tiny:
    bubbles(ax_b, lon, lat, d, lw=1.1)
frame(ax_b, (-70.495, -65.794), (40.055, 42.582))

# panel c
draw_land(ax_c, '#d4d4d4')
draw_classes(ax_c, winter_polys, winter_cells)
bubbles(ax_c, nw_lon, nw_lat, 7)
bubbles(ax_c, dense_lon, dense_lat, 7)
for lon, lat, d in c_tiny + c_big:
    bubbles(ax_c, lon, lat, d, lw=1.1)
frame(ax_c, (-70.503, -65.828), (39.993, 42.559))

# overlay for legends, scale bar and north arrow, in picture pixels
ov = fig.add_axes([0, 0, 1, 1], zorder=20)
ov.set_xlim(0, W)
ov.set_ylim(H, 0)
ov.axis('off')
ov.patch.set_alpha(0)

sans = ['Liberation Sans', 'DejaVu Sans']
for label, y in zip(['(a)', '(b)', '(c)'], [23, 443, 842]):
    ov.text(13, y, label, fontsize=17.5, family=sans, weight='bold', va='center', color='#222222')

# probability legend
ov.text(779, 86, 'Probability', fontsize=23.5, va='center', color='#222222')
for lab, y, d in zip(prob_labels, [119, 158, 192, 225], [33, 25, 15, 7]):
    ov.scatter(810, y, s=d2s(d), color=ORANGE, edgecolor=EDGE, linewidth=1.1)
    ov.text(834, y + 2, lab, fontsize=19.3, va='center', color='#222222')

# depth legend
ov.text(783, 266, 'Depth (m)', fontsize=19, va='center', color='#222222')
for lab, y, col, lw in zip(depth_labels, [292, 326, 358, 390],
                           ['#111111', '#a0a0a0', '#c4c4c4', '#dcdcdc'], [1.6, 1.4, 1.2, 1.2]):
    ov.plot([792, 851], [y, y], color=col, lw=lw)
    ov.text(855, y + 2, lab, fontsize=19, va='center', color='#222222')

# temperature legends
for title, labs, ys, y0, x_text in [
        ('Summer', summer_labels, [578, 615, 650, 685, 722], 511, 870),
        ('Winter', winter_labels, [985, 1021, 1058, 1093, 1128], 916, 880)]:
    ov.text(x_text, y0, title, fontsize=23.5, ha='center', va='center', color='#222222')
    ov.text(x_text, y0 + 38, r'BT ($^{\mathrm{o}}$C)', fontsize=23.5, ha='center', va='center', color='#222222')
    for k, y in enumerate(ys):
        ov.scatter(800, y, s=d2s(20), color=SHADES[k], linewidth=0)
        ov.text(837, y + 1, labs[k], fontsize=17.7, va='center', color='#222222')

# scale bar
ov.plot([344, 344, 475, 475], [96, 117, 117, 96], color='#222222', lw=1.1)
ov.plot([410, 410], [96, 117], color='#222222', lw=1.1)
for lab, x, ha in [('0', 343, 'center'), ('50', 410, 'center'), ('100 km', 456, 'left')]:
    ov.text(x, 72, lab, fontsize=20, ha=ha, va='center', color='#222222')

# north arrow
ov.add_patch(Polygon([(729, 327), (713, 378), (729, 373), (747, 379)], closed=True, fc='white', ec='#333333', lw=0.7))
ov.plot([714, 729, 747], [378, 373, 379], color='black', lw=2)
ov.text(730, 394, 'N', fontsize=16, family=sans, ha='center', va='center', color='#222222')

fig.savefig('out.png', dpi=100)
